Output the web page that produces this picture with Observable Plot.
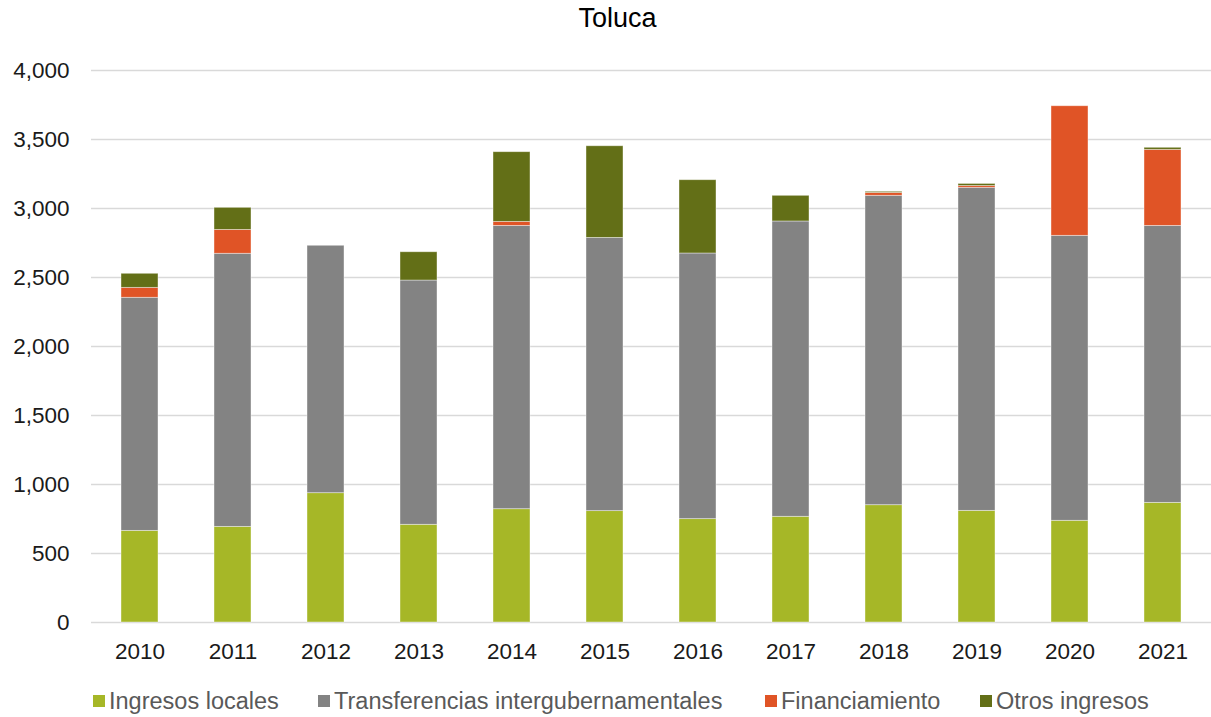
<!DOCTYPE html>
<html>
<head>
<meta charset="utf-8">
<script src="https://cdn.jsdelivr.net/npm/d3@7"></script>
<script src="https://cdn.jsdelivr.net/npm/@observablehq/plot@0.6"></script>
<style>
  html, body { margin: 0; padding: 0; background: #fff; overflow: hidden; }
  body { width: 1211px; font-family: "Liberation Sans", Arial, sans-serif; }
  #title { height: 38px; line-height: 36px; font-size: 27px; color: #000; text-align: center; padding-left: 24px; box-sizing: border-box; }
  #legend { position: relative; height: 39px; font-size: 23.5px; color: #595959; }
  .item { position: absolute; top: 0; display: flex; align-items: center; height: 46px; white-space: nowrap; }
  .sw { width: 12px; height: 12px; margin-right: 4px; }
</style>
</head>
<body>
<div id="title">Toluca</div>
<div id="chart"></div>
<div id="legend"></div>
<script>
const years = ["2010","2011","2012","2013","2014","2015","2016","2017","2018","2019","2020","2021"];
const seriesNames = ["Ingresos locales", "Transferencias intergubernamentales", "Financiamiento", "Otros ingresos"];
const seriesColors = ["#A6B727", "#838383", "#E05426", "#636F17"];
const ingresosLocales = [664, 693, 937, 708, 821, 807, 749, 766, 850, 809, 737, 867];
const transferencias = [1689, 1979, 1793, 1770, 2053, 1980, 1925, 2140, 2242, 2341, 2065, 2007];
const financiamiento = [72, 173, 0, 0, 29, 0, 0, 0, 21, 13, 939, 551];
const otrosIngresos = [102, 160, 0, 205, 505, 664, 531, 186, 8, 15, 0, 15];
const yTicks = [0, 500, 1000, 1500, 2000, 2500, 3000, 3500, 4000];
const legendLeft = [93, 318, 765, 980];

const seriesValues = [ingresosLocales, transferencias, financiamiento, otrosIngresos];
const data = [];
seriesNames.forEach((s, si) => {
  years.forEach((yr, i) => data.push({year: yr, series: s, value: seriesValues[si][i]}));
});

const chart = Plot.plot({
  width: 1211,
  height: 640,
  marginTop: 32,
  marginBottom: 56,
  marginLeft: 91,
  marginRight: 0,
  style: {fontFamily: "Liberation Sans, Arial, sans-serif", fontSize: "22.5px", color: "#1a1a1a", background: "#fff"},
  x: {domain: years, paddingInner: 0.6, paddingOuter: 0.3, label: null},
  y: {domain: [0, 4000], label: null},
  color: {domain: seriesNames, range: seriesColors},
  marks: [
    Plot.gridY(yTicks, {stroke: "#d9d9d9", strokeOpacity: 1, strokeWidth: 1.6}),
    Plot.barY(data, {x: "year", y: "value", fill: "series", stroke: "#ffffff", strokeWidth: 0.8, strokeOpacity: 0.5}),
    Plot.axisY(yTicks, {tickSize: 0, tickPadding: 22, tickFormat: d3.format(","), label: null}),
    Plot.axisX({tickSize: 0, tickPadding: 21, label: null})
  ]
});
document.getElementById("chart").appendChild(chart);

const legend = document.getElementById("legend");
seriesNames.forEach((s, i) => {
  const item = document.createElement("div");
  item.className = "item";
  item.style.left = legendLeft[i] + "px";
  const sw = document.createElement("div");
  sw.className = "sw";
  sw.style.background = seriesColors[i];
  const t = document.createElement("span");
  t.textContent = s;
  item.appendChild(sw);
  item.appendChild(t);
  legend.appendChild(item);
});
</script>
</body>
</html>
